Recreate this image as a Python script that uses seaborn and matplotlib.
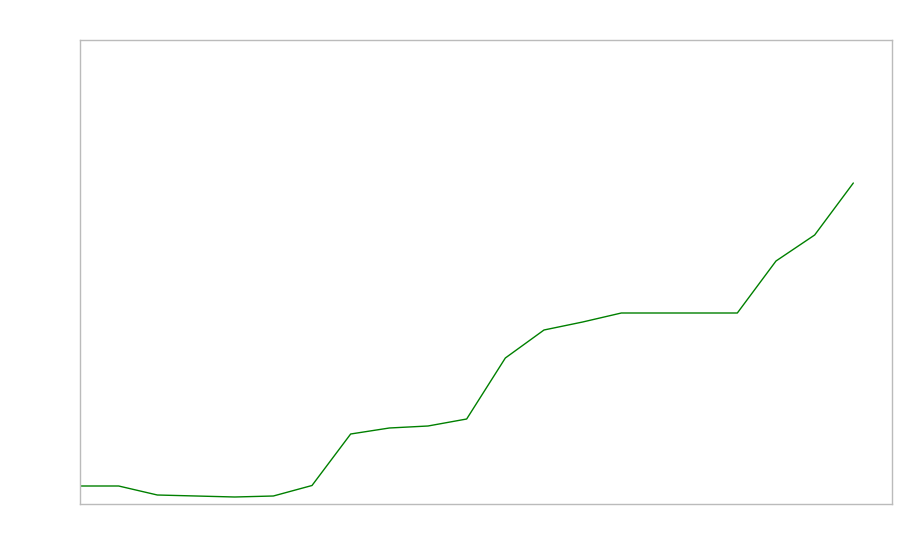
#!/usr/bin/env python3
# coding: utf-8

import numpy as np
import pandas as pd
import seaborn as sns
from matplotlib import pyplot as plt

# values (pixel height above the bottom of the axes)
steps = list(range(21))
values = [18, 18, 9, 8, 7, 8, 18.5, 70, 76, 78, 85, 146, 174, 182, 191,
          191, 191, 191, 243, 269, 321]

df = pd.DataFrame({"step": steps, "value": values})

sns.set_style("white")
fig = plt.figure(figsize=(9, 5.6), dpi=100)
ax = fig.add_axes([80 / 900, 1 - 504 / 560, 812 / 900, 464 / 560])

sns.lineplot(data=df, x="step", y="value", ax=ax, color="green", linewidth=1)

ax.set_xlim(0, 21)
ax.set_ylim(0, 464)
ax.set_xticks([])
ax.set_yticks([])
ax.set_xlabel("")
ax.set_ylabel("")
for sp in ax.spines.values():
    sp.set_color("#bbbbbb")
    sp.set_linewidth(1)

fig.savefig("out.png", dpi=100)
